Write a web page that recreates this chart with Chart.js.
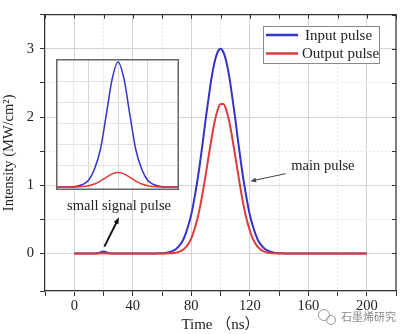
<!DOCTYPE html>
<html>
<head>
<meta charset="utf-8">
<script src="https://cdn.jsdelivr.net/npm/chart.js@4"></script>
<style>
  html, body { margin: 0; padding: 0; background: #fff; }
  #wrap { position: relative; width: 404px; height: 334px; }
  #main { position: absolute; left: 0; top: 0; }
  #inset { position: absolute; left: 56px; top: 59px; }
</style>
</head>
<body>
<div id="wrap">
  <canvas id="main" width="404" height="334"></canvas>
  <canvas id="inset" width="123" height="131"></canvas>
</div>
<script>
// time axis (ns), denser around the two pulses
var time = [0, 10,
  12, 13, 14, 15, 16, 17, 18, 19, 20, 21, 22, 23, 24, 25, 26, 27, 28,
  30, 40, 50,
  56, 58, 60, 62, 64, 66, 68, 70, 72, 74, 76, 78, 80, 82, 84, 86, 88, 90, 92, 94, 96, 98,
  100,
  102, 104, 106, 108, 110, 112, 114, 116, 118, 120, 122, 124, 126, 128, 130, 132, 134, 136, 138, 140, 142, 144,
  150, 160, 170, 180, 190, 200];

// intensity (MW/cm2)
var inputPulse = [0, 0,
  0, 0.0002, 0.0006, 0.0016, 0.0042, 0.0088, 0.017, 0.0255, 0.0295, 0.0255, 0.017, 0.0088, 0.0042, 0.0016, 0.0006, 0.0002, 0,
  0, 0, 0,
  0.001, 0.002, 0.004, 0.008, 0.014, 0.025, 0.044, 0.073, 0.12, 0.18, 0.28, 0.41, 0.57, 0.79, 1.04, 1.33, 1.65, 1.99, 2.30, 2.59, 2.81, 2.95,
  3.00,
  2.95, 2.81, 2.59, 2.30, 1.99, 1.65, 1.33, 1.04, 0.79, 0.57, 0.41, 0.28, 0.18, 0.12, 0.073, 0.044, 0.025, 0.014, 0.008, 0.004, 0.002, 0.001,
  0, 0, 0, 0, 0, 0];

var outputPulse = [0, 0,
  0, 0, 0.0001, 0.0003, 0.0007, 0.0014, 0.0023, 0.0031, 0.0034, 0.0031, 0.0023, 0.0014, 0.0007, 0.0003, 0.0001, 0, 0,
  0, 0, 0,
  0, 0, 0, 0.001, 0.0018, 0.0037, 0.0076, 0.015, 0.028, 0.049, 0.085, 0.14, 0.22, 0.34, 0.49, 0.68, 0.91, 1.17, 1.44, 1.70, 1.93, 2.10,
  2.19,
  2.19, 2.10, 1.93, 1.70, 1.44, 1.17, 0.91, 0.68, 0.49, 0.34, 0.22, 0.14, 0.085, 0.049, 0.028, 0.015, 0.0076, 0.0037, 0.0018, 0.001, 0, 0,
  0, 0, 0, 0, 0, 0];

var seriesNames = ['Input pulse', 'Output pulse'];
var xTickLabels = [0, 40, 80, 120, 160, 200];
var yTickLabels = [0, 1, 2, 3];

var BLUE = '#3434c8';
var RED = '#e03a3a';
var SERIF = "'Liberation Serif', 'Noto Sans CJK SC', serif";

// text labels + arrows, anchored in data coordinates
var notes = [
  { text: 'main pulse', at: [170, 1.28], from: [144.5, 1.17], to: [120.5, 1.06], width: 1, color: '#444', head: 6 },
  { text: 'small signal pulse', at: [30.6, 0.70], from: [20.6, 0.10], to: [30.6, 0.53], width: 2, color: '#111', head: 7 }
];

function points(xs, ys) {
  return xs.map(function (x, i) { return { x: x, y: ys[i] }; });
}

function drawArrow(ctx, x1, y1, x2, y2, size) {
  var a = Math.atan2(y2 - y1, x2 - x1);
  ctx.beginPath();
  ctx.moveTo(x1, y1);
  ctx.lineTo(x2 - Math.cos(a) * size * 0.6, y2 - Math.sin(a) * size * 0.6);
  ctx.stroke();
  ctx.beginPath();
  ctx.moveTo(x2, y2);
  ctx.lineTo(x2 - size * Math.cos(a - 0.38), y2 - size * Math.sin(a - 0.38));
  ctx.lineTo(x2 - size * Math.cos(a + 0.38), y2 - size * Math.sin(a + 0.38));
  ctx.closePath();
  ctx.fill();
}

var framePlugin = {
  id: 'frame',
  afterDatasetsDraw: function (chart) {
    var ctx = chart.ctx, a = chart.chartArea;
    var xs = chart.scales.x, ys = chart.scales.y;
    ctx.save();
    // top and right sides with inward ticks
    ctx.strokeStyle = '#333';
    ctx.lineWidth = 1.2;
    ctx.beginPath();
    ctx.moveTo(a.left, a.top); ctx.lineTo(a.right, a.top); ctx.lineTo(a.right, a.bottom);
    ctx.stroke();
    ctx.lineWidth = 1;
    xs.ticks.forEach(function (t) {
      if (t.value % 20 !== 0) return;
      var px = Math.round(xs.getPixelForValue(t.value)) + 0.5;
      ctx.beginPath(); ctx.moveTo(px, a.top); ctx.lineTo(px, a.top + 4); ctx.stroke();
    });
    ys.ticks.forEach(function (t) {
      if (Math.abs(t.value * 2 - Math.round(t.value * 2)) > 1e-6) return;
      var py = Math.round(ys.getPixelForValue(t.value)) + 0.5;
      ctx.beginPath(); ctx.moveTo(a.right, py); ctx.lineTo(a.right - 4, py); ctx.stroke();
    });

    // annotations
    ctx.font = '14.5px ' + SERIF;
    ctx.textAlign = 'center';
    ctx.textBaseline = 'middle';
    notes.forEach(function (n) {
      ctx.fillStyle = '#222';
      ctx.fillText(n.text, xs.getPixelForValue(n.at[0]), ys.getPixelForValue(n.at[1]));
      ctx.strokeStyle = n.color;
      ctx.fillStyle = n.color;
      ctx.lineWidth = n.width;
      drawArrow(ctx, xs.getPixelForValue(n.from[0]), ys.getPixelForValue(n.from[1]),
        xs.getPixelForValue(n.to[0]), ys.getPixelForValue(n.to[1]), n.head);
    });

    // legend box
    ctx.fillStyle = '#fff';
    ctx.fillRect(263, 26, 116, 37);
    ctx.strokeStyle = '#8a8a8a';
    ctx.lineWidth = 1;
    ctx.strokeRect(263.5, 26.5, 116, 37);
    var colors = [BLUE, RED];
    ctx.textAlign = 'left';
    ctx.font = '15px ' + SERIF;
    seriesNames.forEach(function (name, i) {
      var y = 35 + i * 18.5;
      ctx.strokeStyle = colors[i];
      ctx.lineWidth = 2.5;
      ctx.beginPath(); ctx.moveTo(266, y); ctx.lineTo(298, y); ctx.stroke();
      ctx.fillStyle = '#222';
      ctx.fillText(name, i === 0 ? 305 : 302, y + 1);
    });

    // watermark
    ctx.strokeStyle = '#9a9a9a';
    ctx.lineWidth = 1;
    ctx.beginPath(); ctx.arc(324, 315, 5.5, 0, Math.PI * 2); ctx.stroke();
    ctx.beginPath(); ctx.arc(331, 320, 4.5, 0, Math.PI * 2); ctx.stroke();
    ctx.fillStyle = '#8a8a8a';
    ctx.font = '11px "Noto Sans CJK SC"';
    ctx.fillText('石墨烯研究', 341, 317);
    ctx.restore();
  }
};

new Chart(document.getElementById('main'), {
  type: 'line',
  data: {
    datasets: [
      { label: seriesNames[0], data: points(time, inputPulse), borderColor: BLUE, borderWidth: 2, order: 1 },
      { label: seriesNames[1], data: points(time, outputPulse), borderColor: RED, borderWidth: 2, order: 0 }
    ]
  },
  options: {
    responsive: false,
    animation: false,
    layout: { padding: { top: 5, right: 8, left: 0, bottom: 0 } },
    elements: { point: { radius: 0 }, line: { cubicInterpolationMode: 'monotone' } },
    plugins: { legend: { display: false }, tooltip: { enabled: false } },
    scales: {
      x: {
        type: 'linear', min: -20, max: 220,
        ticks: {
          stepSize: 20, autoSkip: false, maxRotation: 0, padding: 1, color: '#222',
          font: { family: SERIF, size: 14.5 },
          callback: function (v) { return xTickLabels.indexOf(v) >= 0 ? v : ''; }
        },
        grid: {
          tickLength: 5, tickColor: '#333',
          color: function (c) { return c.tick && xTickLabels.indexOf(c.tick.value) >= 0 ? '#d4d4d4' : '#e4e4e4'; }
        },
        border: {
          color: '#333', width: 1.2,
          dash: function (c) { return c.tick && xTickLabels.indexOf(c.tick.value) < 0 ? [2, 2] : []; }
        },
        title: { display: true, text: 'Time （ns）', color: '#222', font: { family: SERIF, size: 15 }, padding: 0 },
        afterFit: function (s) { s.height = 43; }
      },
      y: {
        type: 'linear', min: -0.55, max: 3.5,
        ticks: {
          stepSize: 0.5, autoSkip: false, padding: 6, color: '#222',
          font: { family: SERIF, size: 14.5 },
          callback: function (v) { return yTickLabels.indexOf(v) >= 0 ? v : ''; }
        },
        grid: {
          tickLength: 5, tickColor: '#333',
          color: function (c) { return c.tick && yTickLabels.indexOf(c.tick.value) >= 0 ? '#d4d4d4' : '#e4e4e4'; }
        },
        border: {
          color: '#333', width: 1.2,
          dash: function (c) { return c.tick && yTickLabels.indexOf(c.tick.value) < 0 ? [2, 2] : []; }
        },
        title: { display: true, text: 'Intensity (MW/cm²)', color: '#222', font: { family: SERIF, size: 14.5 }, padding: 0 },
        afterFit: function (s) { s.width = 45; }
      }
    }
  },
  plugins: [framePlugin]
});

// inset: zoom on the small signal pulse
var insetPlugin = {
  id: 'insetFrame',
  beforeDraw: function (chart) {
    var ctx = chart.ctx;
    ctx.save();
    ctx.fillStyle = '#fff';
    ctx.fillRect(0, 0, chart.width, chart.height);
    ctx.restore();
  },
  afterDraw: function (chart) {
    var ctx = chart.ctx;
    ctx.save();
    ctx.strokeStyle = '#666';
    ctx.lineWidth = 1.5;
    ctx.strokeRect(0.75, 0.75, chart.width - 1.5, chart.height - 1.5);
    ctx.restore();
  }
};

new Chart(document.getElementById('inset'), {
  type: 'line',
  data: {
    datasets: [
      { label: seriesNames[0], data: points(time, inputPulse), borderColor: BLUE, borderWidth: 1.5, order: 1 },
      { label: seriesNames[1], data: points(time, outputPulse), borderColor: RED, borderWidth: 1.5, order: 0 }
    ]
  },
  options: {
    responsive: false,
    animation: false,
    layout: { padding: 0 },
    elements: { point: { radius: 0 }, line: { cubicInterpolationMode: 'monotone' } },
    plugins: { legend: { display: false }, tooltip: { enabled: false } },
    scales: {
      x: {
        type: 'linear', min: 9.5, max: 30.3,
        ticks: { display: false, stepSize: 2.5 },
        grid: {
          drawTicks: false,
          color: function (c) { return c.tick && c.tick.value % 5 === 0 ? '#d6d6d6' : '#ececec'; }
        },
        border: { display: false },
        afterFit: function (s) { s.height = 0; }
      },
      y: {
        type: 'linear', min: -0.0007, max: 0.0302,
        ticks: { display: false, stepSize: 0.005 },
        grid: { drawTicks: false, color: '#e2e2e2' },
        border: { display: false },
        afterFit: function (s) { s.width = 0; }
      }
    }
  },
  plugins: [insetPlugin]
});
</script>
</body>
</html>
